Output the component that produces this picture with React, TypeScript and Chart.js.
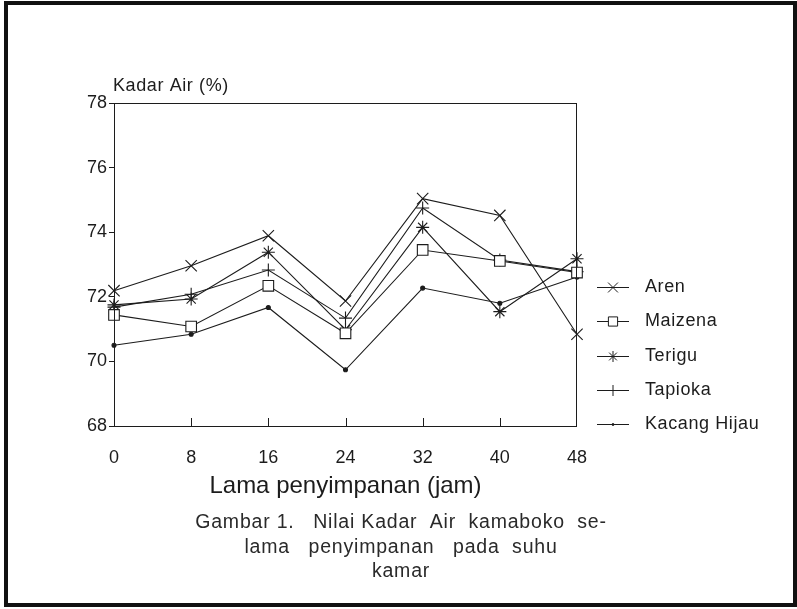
import React, { useEffect, useRef } from 'react';
import { Chart, registerables } from 'chart.js';
import { drawPoint } from 'chart.js/helpers';

Chart.register(...registerables);

// ---- data ----
const hours = [0, 8, 16, 24, 32, 40, 48];
const aren = [72.19, 72.96, 73.89, 71.87, 75.04, 74.52, 70.84];
const maizena = [71.44, 71.08, 72.34, 70.87, 73.45, 73.11, 72.75];
const terigu = [71.75, 71.93, 73.38, 70.98, 74.15, 71.54, 73.18];
const tapioka = [71.68, 72.08, 72.83, 71.34, 74.75, 73.14, 72.78];
const kacangHijau = [70.5, 70.84, 71.67, 69.74, 72.27, 71.8, 72.61];

const seriesNames = ['Aren', 'Maizena', 'Terigu', 'Tapioka', 'Kacang Hijau'];
const seriesValues = [aren, maizena, terigu, tapioka, kacangHijau];
const yMin = 68;
const yMax = 78;
const yStep = 2;
const xStep = 8;
const yTitle = 'Kadar Air (%)';
const xTitle = 'Lama penyimpanan (jam)';
const captionLines = ['Gambar 1.   Nilai Kadar  Air  kamaboko  se-', 'lama   penyimpanan   pada  suhu', 'kamar'];

// ---- styles ----
const INK = '#1c1c1c';
const FONT = "'Liberation Sans', Arial, sans-serif";
const markerStyles = [
  { pointStyle: 'crossRot', radius: 8, fill: '#ffffff' },
  { pointStyle: 'rect', radius: 7.5, fill: '#ffffff' },
  { pointStyle: 'star', radius: 6.5, fill: '#ffffff' },
  { pointStyle: 'cross', radius: 6.5, fill: '#ffffff' },
  { pointStyle: 'circle', radius: 2, fill: INK },
];

const decorPlugin = {
  id: 'decor',
  afterDraw(chart: any) {
    const { ctx, chartArea: a, scales } = chart;
    const xs = scales.x;
    ctx.save();
    // plot frame
    ctx.strokeStyle = INK;
    ctx.lineWidth = 1;
    ctx.strokeRect(a.left + 0.5, a.top + 0.5, a.right - a.left - 1, a.bottom - a.top);
    // inward x ticks
    ctx.beginPath();
    hours.slice(1, -1).forEach((h) => {
      const px = Math.round(xs.getPixelForValue(h)) + 0.5;
      ctx.moveTo(px, a.bottom);
      ctx.lineTo(px, a.bottom - 8);
    });
    ctx.stroke();

    // y title
    ctx.fillStyle = INK;
    ctx.font = `18px ${FONT}`;
    (ctx as any).letterSpacing = '0.6px';
    ctx.textAlign = 'left';
    ctx.textBaseline = 'middle';
    ctx.fillText(yTitle, a.left - 1, a.top - 17);

    // legend
    const lx = a.right + 20;
    const ly0 = a.top + 184;
    const gap = 34.3;
    seriesNames.forEach((name, i) => {
      const y = Math.round(ly0 + i * gap) + 0.5;
      ctx.strokeStyle = INK;
      ctx.lineWidth = 1;
      ctx.beginPath();
      ctx.moveTo(lx, y);
      ctx.lineTo(lx + 32, y);
      ctx.stroke();
      const m = markerStyles[i];
      ctx.fillStyle = m.fill;
      ctx.strokeStyle = INK;
      ctx.lineWidth = 1;
      drawPoint(ctx, { pointStyle: m.pointStyle, radius: m.radius - 1, rotation: 0, borderWidth: 1 } as any, lx + 16, y);
      ctx.fillStyle = INK;
      ctx.font = `18px ${FONT}`;
      (ctx as any).letterSpacing = '0.6px';
      ctx.textAlign = 'left';
      ctx.textBaseline = 'middle';
      ctx.fillText(name, lx + 48, y);
    });

    // caption
    ctx.font = `19.5px ${FONT}`;
    (ctx as any).letterSpacing = '0.8px';
    ctx.textAlign = 'center';
    ctx.fillStyle = '#2a2a2a';
    captionLines.forEach((line, i) => {
      ctx.fillText(line, 401, 523 + i * 24.5);
    });
    (ctx as any).letterSpacing = '0px';

    // outer frame of the figure
    ctx.strokeStyle = '#111';
    ctx.lineWidth = 4;
    ctx.strokeRect(6, 3, 789, 602);
    ctx.restore();
  },
};

export default function App() {
  const ref = useRef<HTMLCanvasElement | null>(null);
  useEffect(() => {
    if (!ref.current) return;
    const chart = new Chart(ref.current, {
      type: 'line',
      data: {
        datasets: seriesNames.map((name, i) => ({
          label: name,
          data: hours.map((h, j) => ({ x: h, y: seriesValues[i][j] })),
          borderColor: INK,
          borderWidth: 1.1,
          backgroundColor: markerStyles[i].fill,
          pointStyle: markerStyles[i].pointStyle as any,
          pointRadius: markerStyles[i].radius,
          pointBorderColor: INK,
          pointBackgroundColor: markerStyles[i].fill,
          pointBorderWidth: 1.1,
          tension: 0,
          fill: false,
          clip: false as any,
        })),
      },
      options: {
        responsive: false,
        animation: false,
        events: [],
        layout: { padding: { left: 0, top: 103, right: 220, bottom: 108 } },
        plugins: {
          legend: { display: false },
          tooltip: { enabled: false },
          title: { display: false },
        },
        scales: {
          x: {
            type: 'linear',
            min: hours[0],
            max: hours[hours.length - 1],
            border: { display: false },
            grid: { display: false },
            ticks: {
              stepSize: xStep,
              color: INK,
              padding: 13,
              font: { family: FONT, size: 18 },
            },
            title: {
              display: true,
              text: xTitle,
              color: INK,
              padding: { top: 0, bottom: 0 },
              font: { family: FONT, size: 24 },
            },
            afterFit: (s: any) => {
              s.height = 75;
            },
          },
          y: {
            type: 'linear',
            min: yMin,
            max: yMax,
            border: { display: false },
            grid: {
              display: true,
              drawOnChartArea: false,
              drawTicks: true,
              tickLength: 5,
              color: INK,
            },
            ticks: {
              stepSize: yStep,
              color: INK,
              padding: 2,
              font: { family: FONT, size: 18 },
            },
            afterFit: (s: any) => {
              s.width = 114;
            },
          },
        },
      },
      plugins: [decorPlugin],
    });
    return () => chart.destroy();
  }, []);
  return (
    <div style={{ position: 'fixed', left: 0, top: 0, width: 797, height: 609, background: '#fff' }}>
      <canvas ref={ref} width={797} height={609} />
    </div>
  );
}
